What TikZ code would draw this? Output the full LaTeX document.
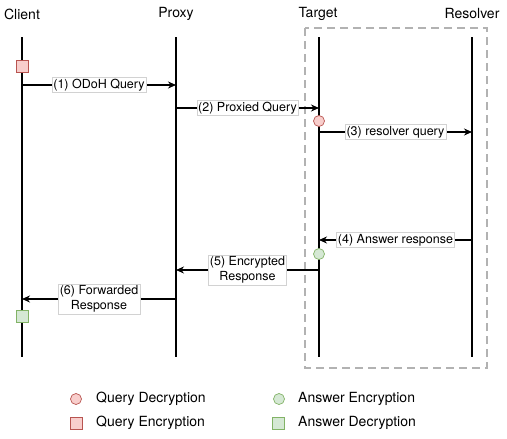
\documentclass[tikz,border=0pt]{standalone}
\usepackage{fontspec}
\setmainfont{TeX Gyre Heros}
\usetikzlibrary{arrows.meta}
\definecolor{qfill}{HTML}{F8CECC}
\definecolor{qline}{HTML}{B85450}
\definecolor{afill}{HTML}{D5E8D4}
\definecolor{aline}{HTML}{82B366}
\begin{document}
\begin{tikzpicture}[x=1pt,y=-1pt,
  title/.style={font=\fontsize{14}{16}\selectfont},
  lifeline/.style={line width=1.2pt,black},
  msg/.style={line width=1.1pt,-{Stealth[length=8pt,width=7pt]}},
  lbl/.style={fill=white,draw=gray!35,line width=0.4pt,inner sep=1.5pt,align=center,
    font=\fontsize{12.5}{15}\selectfont},
  qdec/.style={circle,minimum size=11pt,inner sep=0pt,fill=qfill,draw=qline,line width=0.7pt},
  qenc/.style={rectangle,minimum size=12pt,inner sep=0pt,fill=qfill,draw=qline,line width=0.7pt},
  aenc/.style={circle,minimum size=11pt,inner sep=0pt,fill=afill,draw=aline,line width=0.7pt},
  adec/.style={rectangle,minimum size=12pt,inner sep=0pt,fill=afill,draw=aline,line width=0.7pt},
  legtxt/.style={anchor=west,inner sep=0pt,font=\fontsize{14}{16}\selectfont},
  grp/.style={draw=gray!60,line width=1.5pt,dash pattern=on 8pt off 5pt}
]
\useasboundingbox (0,0) rectangle (507,439);
% group box
\draw[grp] (305,28) rectangle (487,368);
% titles
\node[title] (client) at (22,14) {Client};
\node[title] (proxy) at (176,14) {Proxy};
\node[title] (target) at (318,14) {Target};
\node[title] (resolver) at (472,14) {Resolver};
% lifelines
\coordinate (ct) at (22,37);   \coordinate (cb) at (22,357);
\coordinate (pt) at (176,37);  \coordinate (pb) at (176,357);
\coordinate (tt) at (319,37);  \coordinate (tb) at (319,357);
\coordinate (rt) at (472,37);  \coordinate (rb) at (472,357);
\draw[lifeline] (ct) -- (cb);
\draw[lifeline] (pt) -- (pb);
\draw[lifeline] (tt) -- (tb);
\draw[lifeline] (rt) -- (rb);
% message endpoints
\coordinate (c1) at (22,85);   \coordinate (p1) at (176,85);
\coordinate (p2) at (176,108); \coordinate (t2) at (319,108);
\coordinate (t3) at (319,132); \coordinate (r3) at (472,132);
\coordinate (r4) at (472,240); \coordinate (t4) at (319,240);
\coordinate (t5) at (319,270); \coordinate (p5) at (176,270);
\coordinate (p6) at (176,299); \coordinate (c6) at (22,299);
\draw[msg] (c1) -- node[lbl] (l1) {(1) ODoH Query} (p1);
\draw[msg] (p2) -- node[lbl] (l2) {(2) Proxied Query} (t2);
\draw[msg] (t3) -- node[lbl] (l3) {(3) resolver query} (r3);
\draw[msg] (r4) -- node[lbl] (l4) {(4) Answer response} (t4);
\draw[msg] (t5) -- node[lbl] (l5) {(5) Encrypted\\Response} (p5);
\draw[msg] (p6) -- node[lbl] (l6) {(6) Forwarded\\Response} (c6);
% crypto markers
\node[qenc] (m1) at (22,66) {};
\node[qdec] (m2) at (319,121) {};
\node[aenc] (m3) at (319,254) {};
\node[adec] (m4) at (22,316) {};
% legend
\node[qdec] (k1) at (76,399) {};
\node[legtxt] (k1t) at (96,399) {Query Decryption};
\node[qenc] (k2) at (76,423) {};
\node[legtxt] (k2t) at (96,423) {Query Encryption};
\node[aenc] (k3) at (279,399) {};
\node[legtxt] (k3t) at (298,399) {Answer Encryption};
\node[adec] (k4) at (278,423) {};
\node[legtxt] (k4t) at (298,423) {Answer Decryption};
\end{tikzpicture}
\end{document}
